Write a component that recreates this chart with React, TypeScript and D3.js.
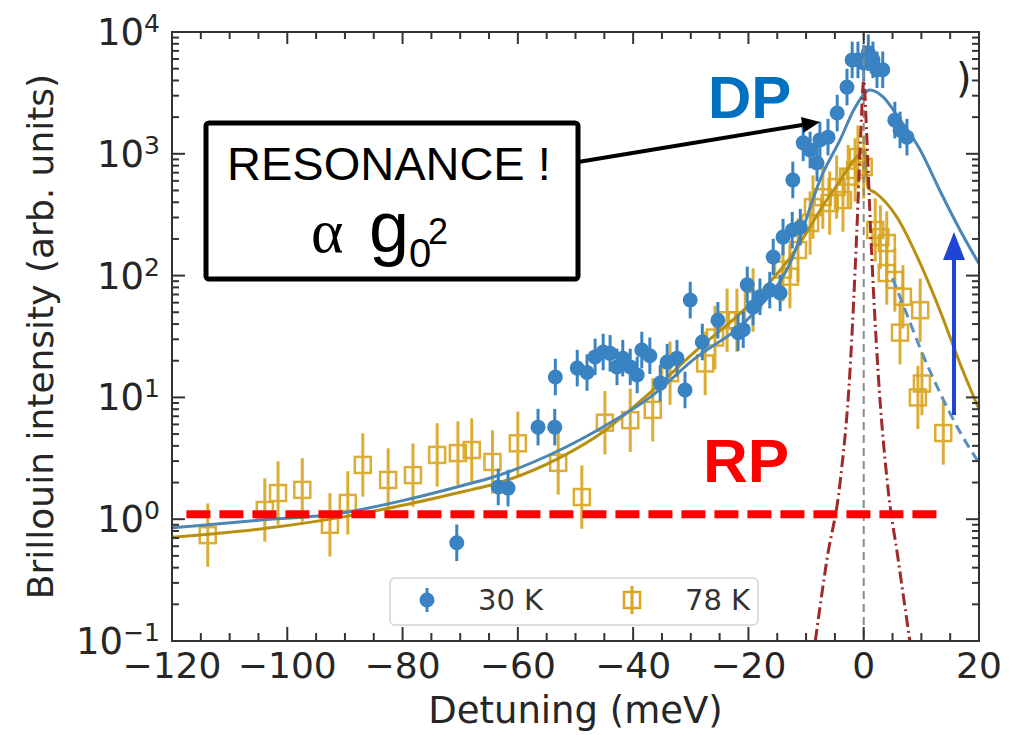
import React from 'react';
import * as d3 from 'd3';

const W = 1016;
const H = 735;
const box = { left: 172, right: 979, top: 32, bottom: 641 };

// 30 K data (filled circles)
const det30 = [-70.6, -63.4, -61.7, -56.5, -53.6, -53.5, -49.7, -48, -46.6, -45.2, -44, -42.8, -41.8, -40.5, -39.3, -38.5, -37.1, -35.3, -34.1, -32.4, -31, -30.1, -28, -25.3, -21.8, -20.9, -20.2, -19.2, -18, -16.3, -15.7, -14.5, -14, -12.4, -12.3, -11, -10.5, -9.3, -8.1, -7.6, -6.2, -4.6, -2.9, -2, -1, 0, 0.8, 1.6, 2.3, 3.3, 5.4, 6.3, 7.5];
const int30 = [0.64, 1.84, 1.8, 5.7, 5.7, 14.7, 17.4, 16, 21.5, 23.6, 23, 17.8, 21, 17.8, 15.3, 24.5, 22, 13.1, 19.5, 21, 11.5, 63, 28.5, 43, 34, 36, 84, 55, 67, 76, 142, 72, 207, 236, 610, 250, 1230, 1075, 840, 1300, 1370, 2160, 3530, 5900, 5900, 5560, 6760, 5900, 4900, 4900, 1890, 1570, 1370];

// 78 K data (open squares)
const det78 = [-113.8, -103.9, -101.6, -97.4, -92.6, -89.5, -86.9, -82.5, -78.2, -74, -70.4, -68, -64.4, -60, -53, -48.9, -44.9, -40.5, -36.6, -33.6, -27.5, -25.8, -23.7, -22, -19.2, -14, -12.8, -11.4, -9.3, -8.8, -7.1, -5.9, -4.7, -3.6, -2.7, -1.5, -1, 0, 2, 2.9, 4, 4, 5.4, 6.8, 6.3, 9.8, 9.4, 10.1, 13.8];
const int78 = [0.74, 1.19, 1.64, 1.74, 0.9, 1.36, 2.79, 2.1, 2.3, 3.37, 3.49, 3.7, 2.95, 4.2, 2.9, 1.52, 6.2, 6.5, 7.9, 15.8, 19, 31, 43, 43, 63, 112, 98, 162, 270, 365, 440, 394, 533, 417, 650, 736, 940, 780, 237, 207, 185, 105, 92, 67, 34, 52, 10, 13, 5.1];

// error bar half length, in decades
const err30 = 0.15;
const err78 = 0.26;

// fit curves
const fitDet30 = [-120, -105, -90.8, -80, -68, -64.8, -52.7, -45, -37.1, -29.6, -19.7, -12.8, -7.1, -4.1, -1.5, 1.1, 3.3, 6.3, 9.8, 13.2, 16.7, 20];
const fitInt30 = [0.85, 0.98, 1.12, 1.42, 1.98, 2.18, 3.7, 5.8, 10, 20.3, 46, 126, 690, 1300, 2400, 3340, 2950, 1900, 1075, 500, 237, 125];
const fitDet78 = [-120, -103, -90, -80, -68, -64.8, -52.7, -45, -37.1, -29.6, -19.2, -15.7, -12.8, -9.8, -7, -4.1, -2, 0, 0.8, 2, 5.8, 9.8, 13.2, 16.7, 20];
const fitInt78 = [0.71, 0.85, 1.05, 1.3, 1.75, 1.9, 3.2, 5.3, 10.9, 23, 62, 95, 140, 230, 380, 600, 850, 1050, 520, 480, 300, 126, 52, 19, 8];
const dashDet = [5, 7.2, 10, 13.2, 16.7, 20];
const dashInt = [95, 52, 24, 11, 5.2, 2.9];
const peakDet = [-8.4, -6.4, -4.1, -2.4, -1.2, -0.5, 0, 0.5, 1.2, 2.5, 4.1, 6.0, 8.0];
const peakInt = [0.1, 0.46, 2.0, 16, 230, 1500, 4000, 1500, 230, 16, 2.0, 0.46, 0.1];

const rpLevel = 1.1;
const xMajor = [-120, -100, -80, -60, -40, -20, 0, 20];
const yExp = [-1, 0, 1, 2, 3, 4];

const BLUE = '#3a83c3';
const GOLD = '#d9a520';
const font = 'DejaVu Sans';

const fmtExp = (e) => (e < 0 ? '\u2212' + Math.abs(e) : String(e));
const fmtX = (v) => (v < 0 ? '\u2212' + Math.abs(v) : String(v));

export default function App() {
  const x = d3.scaleLinear().domain([-120, 20]).range([box.left, box.right]);
  const y = d3.scaleLog().domain([0.1, 1e4]).range([box.bottom, box.top]);

  const path = (xs, ys) =>
    d3.line().x((d, i) => x(xs[i])).y((d, i) => y(ys[i])).curve(d3.curveMonotoneX)(xs);

  const xMinor = d3.range(-120, 20.01, 5).filter((v) => v % 20 !== 0);
  const yMinor = y.ticks().filter((v) => Math.abs(Math.log10(v) - Math.round(Math.log10(v))) > 1e-6);

  // annotation arrow geometry
  const a0 = [578, 162];
  const a1 = [820, 122];
  const len = Math.hypot(a1[0] - a0[0], a1[1] - a0[1]);
  const ux = (a1[0] - a0[0]) / len;
  const uy = (a1[1] - a0[1]) / len;
  const bx = a1[0] - 18 * ux;
  const by = a1[1] - 18 * uy;
  const head = `${a1[0]},${a1[1]} ${bx - 8 * uy},${by + 8 * ux} ${bx + 8 * uy},${by - 8 * ux}`;

  return (
    <svg width={W} height={H} style={{ position: 'absolute', left: 0, top: 0, background: '#fff' }}>
      <defs>
        <clipPath id="plot">
          <rect x={box.left} y={box.top} width={box.right - box.left} height={box.bottom - box.top} />
        </clipPath>
      </defs>

      <g clipPath="url(#plot)">
        {/* 78 K points */}
        {det78.map((d, i) => {
          const cx = x(d);
          const cy = y(int78[i]);
          return (
            <g key={'g' + i} opacity={0.9}>
              <line x1={cx} x2={cx} y1={y(int78[i] * 10 ** -err78)} y2={y(int78[i] * 10 ** err78)} stroke={GOLD} strokeWidth={3} />
              <rect x={cx - 8} y={cy - 8} width={16} height={16} fill="none" stroke={GOLD} strokeWidth={2.5} />
            </g>
          );
        })}

        {/* fits */}
        <path d={path(fitDet78, fitInt78)} fill="none" stroke="#b8900f" strokeWidth={3} />
        <path d={path(fitDet30, fitInt30)} fill="none" stroke="#4b86b4" strokeWidth={3} />
        <path d={path(dashDet, dashInt)} fill="none" stroke="#5a8fbf" strokeWidth={3} strokeDasharray="10,6" />

        {/* 30 K points */}
        {det30.map((d, i) => {
          const cx = x(d);
          const cy = y(int30[i]);
          return (
            <g key={'b' + i}>
              <line x1={cx} x2={cx} y1={y(int30[i] * 10 ** -err30)} y2={y(int30[i] * 10 ** err30)} stroke={BLUE} strokeWidth={3} />
              <circle cx={cx} cy={cy} r={7.5} fill={BLUE} />
            </g>
          );
        })}

        <line x1={x(0)} x2={x(0)} y1={box.top} y2={box.bottom} stroke="#8a8a8a" strokeWidth={2} strokeDasharray="8,5" />
        <path d={path(peakDet, peakInt)} fill="none" stroke="#9e2a2b" strokeWidth={3} strokeDasharray="12,4,2,4" />
      </g>

      {/* frame and ticks */}
      <rect x={box.left} y={box.top} width={box.right - box.left} height={box.bottom - box.top} fill="none" stroke="#333" strokeWidth={2} />
      <g stroke="#333" strokeWidth={2}>
        {xMajor.map((v) => (
          <g key={'xm' + v}>
            <line x1={x(v)} x2={x(v)} y1={box.bottom} y2={box.bottom - 14} />
            <line x1={x(v)} x2={x(v)} y1={box.top} y2={box.top + 12} />
          </g>
        ))}
        {xMinor.map((v) => (
          <g key={'xn' + v}>
            <line x1={x(v)} x2={x(v)} y1={box.bottom} y2={box.bottom - 8} />
            <line x1={x(v)} x2={x(v)} y1={box.top} y2={box.top + 7} />
          </g>
        ))}
        {yExp.map((e) => (
          <g key={'ym' + e}>
            <line x1={box.left} x2={box.left + 13} y1={y(10 ** e)} y2={y(10 ** e)} />
            <line x1={box.right} x2={box.right - 13} y1={y(10 ** e)} y2={y(10 ** e)} />
          </g>
        ))}
        {yMinor.map((v, i) => (
          <g key={'yn' + i}>
            <line x1={box.left} x2={box.left + 7} y1={y(v)} y2={y(v)} />
            <line x1={box.right} x2={box.right - 7} y1={y(v)} y2={y(v)} />
          </g>
        ))}
      </g>

      {/* tick labels */}
      <g fontFamily={font} fill="#262626">
        {xMajor.map((v) => (
          <text key={'xl' + v} x={x(v)} y={678} fontSize={36} textAnchor="middle">
            {fmtX(v)}
          </text>
        ))}
        {yExp.map((e) => (
          <text key={'yl' + e} x={160} y={y(10 ** e) + 13} fontSize={37} textAnchor="end">
            10
            <tspan dy={-13} fontSize={25}>
              {fmtExp(e)}
            </tspan>
          </text>
        ))}
        <text x={(box.left + box.right) / 2} y={723} fontSize={37} textAnchor="middle">
          Detuning (meV)
        </text>
        <text transform={`translate(53,${(box.top + box.bottom) / 2}) rotate(-90)`} fontSize={36} textAnchor="middle">
          Brillouin intensity (arb. units)
        </text>
      </g>

      {/* legend */}
      <g>
        <rect x={390} y={578} width={368} height={47} rx={5} fill="#fff" fillOpacity={0.85} stroke="#d5d5d5" strokeWidth={1.5} />
        <line x1={427} x2={427} y1={588} y2={612} stroke={BLUE} strokeWidth={3} />
        <circle cx={427} cy={600} r={7.5} fill={BLUE} />
        <text x={478} y={610} fontFamily={font} fontSize={29} fill="#333">30 K</text>
        <line x1={632} x2={632} y1={586} y2={614} stroke={GOLD} strokeWidth={3} />
        <rect x={624} y={592} width={16} height={16} fill="none" stroke={GOLD} strokeWidth={2.5} />
        <text x={685} y={610} fontFamily={font} fontSize={29} fill="#333">78 K</text>
      </g>

      {/* RP level */}
      <line x1={x(-117.5)} x2={x(13.5)} y1={y(rpLevel)} y2={y(rpLevel)} stroke="#ff0000" strokeWidth={8} strokeDasharray="24,9" />

      {/* annotations */}
      <line x1={a0[0]} y1={a0[1]} x2={bx} y2={by} stroke="#000" strokeWidth={4} />
      <polygon points={head} fill="#000" />
      <rect x={206} y={123} width={372} height={156} rx={3} fill="#fff" stroke="#000" strokeWidth={5} />
      <g fontFamily="Liberation Sans, Arial" fill="#000">
        <text x={227} y={180} fontSize={47}>RESONANCE !</text>
        <text x={311} y={252} fontSize={62} fontFamily="Liberation Serif, serif">α</text>
        <text x={369} y={252} fontSize={72}>g</text>
        <text x={409} y={267} fontSize={40}>0</text>
        <text x={428} y={244} fontSize={36}>2</text>
      </g>
      <text x={708} y={118} fontFamily="Liberation Sans, Arial" fontWeight="bold" fontSize={60} fill="#0070c0">DP</text>
      <text x={703} y={482} fontFamily="Liberation Sans, Arial" fontWeight="bold" fontSize={62} fill="#ff0000">RP</text>
      <text x={956} y={92} fontFamily={font} fontSize={40} fill="#222">)</text>

      <line x1={954} x2={954} y1={415} y2={256} stroke="#1f45d6" strokeWidth={4} />
      <polygon points="954,232 943,260 965,260" fill="#1f45d6" />
    </svg>
  );
}
